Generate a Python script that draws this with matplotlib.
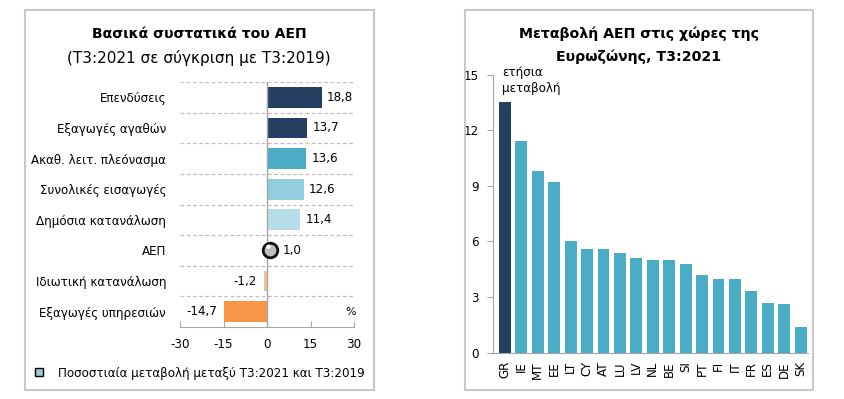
import matplotlib
matplotlib.use('Agg')
import matplotlib.pyplot as plt
from matplotlib.patches import Rectangle

plt.rcParams['font.family'] = ['DejaVu Sans']

# 左图数据: 主要组成部分
categories = ['Επενδύσεις', 'Εξαγωγές αγαθών', 'Ακαθ. λειτ. πλεόνασμα', 'Συνολικές εισαγωγές',
              'Δημόσια κατανάλωση', 'ΑΕΠ', 'Ιδιωτική κατανάλωση', 'Εξαγωγές υπηρεσιών']
values = [18.8, 13.7, 13.6, 12.6, 11.4, 1.0, -1.2, -14.7]
bar_colors = ['#243F60', '#243F60', '#4BACC6', '#92CDDC', '#B7DEE8', None, '#FAC090', '#F79646']
value_labels = ['18,8', '13,7', '13,6', '12,6', '11,4', '1,0', '-1,2', '-14,7']

# 右图数据: 欧元区国家
countries = ['GR', 'IE', 'MT', 'EE', 'LT', 'CY', 'AT', 'LU', 'LV', 'NL',
             'BE', 'SI', 'PT', 'FI', 'IT', 'FR', 'ES', 'DE', 'SK']
growth = [13.5, 11.4, 9.8, 9.2, 6.0, 5.6, 5.6, 5.4, 5.1, 5.0,
          5.0, 4.8, 4.2, 4.0, 4.0, 3.3, 2.7, 2.6, 1.4]

W, H = 844, 399
fs = 8.6
fig = plt.figure(figsize=(W / 100, H / 100), dpi=100)

# 面板边框
for x0, x1 in [(25, 374), (465, 813)]:
    fig.patches.append(Rectangle((x0 / W, 1 - 390 / H), (x1 - x0) / W, 380 / H,
                                 transform=fig.transFigure, fill=False,
                                 edgecolor='#C8C8C8', linewidth=1.5))

# ---------- 左图 ----------
ax1 = fig.add_axes([180 / W, 1 - 327 / H, 174 / W, 245 / H])
ypos = list(range(len(categories)))
for i, (v, c) in enumerate(zip(values, bar_colors)):
    if c is not None:
        ax1.barh(i, v, height=0.68, color=c, zorder=2)
for k in range(len(categories)):
    ax1.axhline(k - 0.5, color='#BFBFBF', linestyle='--', linewidth=0.9, dashes=(3, 2), zorder=1)
ax1.axvline(0, color='#A6A6A6', linewidth=1, zorder=3)

gdp = categories.index('ΑΕΠ')
ax1.scatter([values[gdp]], [gdp], s=110, facecolor='#BDBDBD', edgecolor='#111111', linewidth=2, zorder=5)
ax1.scatter([values[gdp] - 0.5], [gdp - 0.12], s=10, facecolor='white', edgecolor='none', zorder=6)

for i, (v, lab) in enumerate(zip(values, value_labels)):
    if i == gdp:
        ax1.annotate(lab, (v, i), xytext=(9, 0), textcoords='offset points',
                     ha='left', va='center', fontsize=fs)
    elif v >= 0:
        ax1.annotate(lab, (v, i), xytext=(4, 0), textcoords='offset points',
                     ha='left', va='center', fontsize=fs)
    else:
        ax1.annotate(lab, (v, i), xytext=(-5, 0), textcoords='offset points',
                     ha='right', va='center', fontsize=fs)

ax1.set_xlim(-30, 30)
ax1.set_ylim(len(categories) - 0.5, -0.5)
ax1.set_xticks([-30, -15, 0, 15, 30])
ax1.set_xticklabels(['-30', '-15', '0', '15', '30'], fontsize=fs)
ax1.set_yticks(ypos)
ax1.set_yticklabels(categories, fontsize=fs)
ax1.tick_params(axis='y', length=0, pad=10)
ax1.tick_params(axis='x', direction='in', length=4, color='#A6A6A6', pad=8)
for s in ['top', 'left', 'right']:
    ax1.spines[s].set_visible(False)
ax1.spines['bottom'].set_color('#A6A6A6')
ax1.text(29, len(categories) - 1, '%', ha='center', va='center', fontsize=8)

fig.text(199 / W, 1 - 34 / H, 'Βασικά συστατικά του ΑΕΠ', ha='center', va='center',
         fontsize=10.1, fontweight='bold')
fig.text(199 / W, 1 - 58 / H, '(Τ3:2021 σε σύγκριση με Τ3:2019)', ha='center', va='center',
         fontsize=11)

# 图例
fig.patches.append(Rectangle((35 / W, 1 - 376 / H), 8 / W, 8 / H, transform=fig.transFigure,
                             facecolor='#9BC8DC', edgecolor='black', linewidth=1))
fig.text(58 / W, 1 - 374 / H, 'Ποσοστιαία μεταβολή μεταξύ Τ3:2021 και Τ3:2019',
         ha='left', va='center', fontsize=fs)

# ---------- 右图 ----------
ax2 = fig.add_axes([493 / W, 1 - 352.7 / H, 315 / W, 278.2 / H])
x = list(range(len(countries)))
colors2 = ['#243F60' if c == 'GR' else '#4BACC6' for c in countries]
ax2.bar(x, growth, width=0.72, color=colors2)
ax2.set_xlim(-0.73, len(countries) - 0.55)
ax2.set_ylim(0, 15)
ax2.set_yticks([0, 3, 6, 9, 12, 15])
ax2.set_yticklabels(['0', '3', '6', '9', '12', '15'], fontsize=fs)
ax2.set_xticks(x)
ax2.set_xticklabels(countries, rotation=90, fontsize=fs)
ax2.tick_params(axis='x', length=0, pad=6)
ax2.tick_params(axis='y', direction='out', length=4, color='#A6A6A6', pad=6)
for s in ['top', 'right']:
    ax2.spines[s].set_visible(False)
ax2.spines['left'].set_color('#A6A6A6')
ax2.spines['bottom'].set_color('#A6A6A6')
ax2.text(0.03, 15.45, 'ετήσια\nμεταβολή', transform=ax2.get_yaxis_transform(), ha='left', va='top',
         fontsize=fs, linespacing=1.25)

fig.text(639 / W, 1 - 34 / H, 'Μεταβολή ΑΕΠ στις χώρες της', ha='center', va='center',
         fontsize=10.2, fontweight='bold')
fig.text(639 / W, 1 - 57 / H, 'Ευρωζώνης, Τ3:2021', ha='center', va='center',
         fontsize=10.2, fontweight='bold')

fig.savefig('out.png', dpi=100, facecolor='white')
